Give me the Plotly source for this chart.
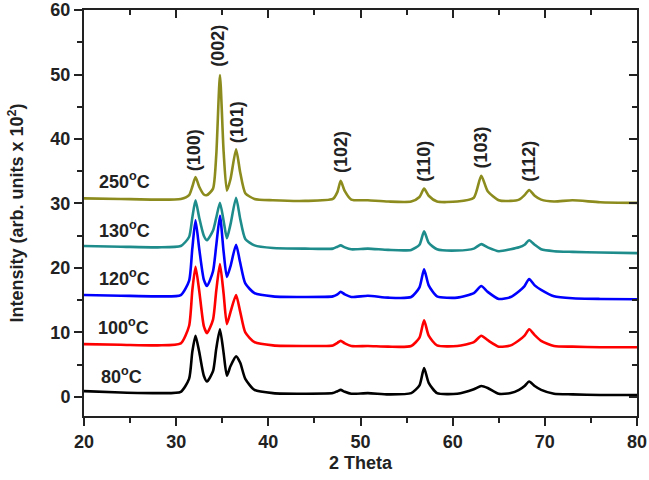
import plotly.graph_objects as go

# 2-theta knot positions (degrees)
TWO_THETA = [20, 24, 28, 30.5, 31.4, 31.75, 32.1, 32.5, 33.0, 33.35, 34.0, 34.35, 34.75, 35.15,
             35.5, 35.9, 36.5, 36.95, 37.5, 38.5, 40.5, 44, 47.0, 47.5, 47.85, 48.3, 49.0,
             50.8, 53, 55.5, 56.4, 56.9, 57.4, 58.3, 60.5, 62.3, 63.1, 63.8, 65.0, 66.3,
             67.2, 67.8, 68.3, 68.9, 69.6, 71, 73, 76, 80]

I_80C = [0.9, 0.7, 0.6, 0.8, 2.8, 7.0, 9.5, 7.0, 3.3, 2.4, 4.0, 7.5, 10.5, 6.8, 3.3, 4.8,
         6.3, 5.3, 2.8, 1.1, 0.6, 0.5, 0.6, 0.9, 1.1, 0.8, 0.5, 0.6, 0.4, 0.6, 1.8, 4.5,
         2.2, 0.6, 0.5, 1.2, 1.7, 1.4, 0.5, 0.6, 1.1, 1.7, 2.4, 1.7, 1.1, 0.5, 0.4, 0.3, 0.3]
I_100C = [8.2, 8.1, 8.0, 8.3, 11.0, 16.5, 20.2, 16.5, 11.0, 9.9, 12.0, 16.5, 20.6, 16.0,
          11.3, 13.2, 15.8, 13.2, 10.0, 8.5, 8.0, 7.9, 8.0, 8.4, 8.7, 8.3, 7.9, 7.9, 7.8,
          7.9, 9.2, 11.9, 9.5, 8.0, 7.9, 8.5, 9.5, 8.8, 7.8, 8.0, 8.8, 9.5, 10.5, 9.6,
          8.7, 7.9, 7.8, 7.7, 7.7]
I_120C = [15.8, 15.7, 15.6, 15.8, 18.0, 23.0, 27.4, 23.0, 18.2, 17.2, 19.5, 23.5, 28.1,
          22.5, 18.6, 20.3, 23.6, 20.8, 17.6, 16.1, 15.6, 15.5, 15.6, 15.9, 16.3, 15.9,
          15.5, 15.7, 15.4, 15.5, 17.0, 19.8, 17.3, 15.6, 15.4, 16.1, 17.2, 16.3, 15.2,
          15.5, 16.4, 17.2, 18.3, 17.3, 16.6, 15.6, 15.3, 15.2, 15.15]
I_130C = [23.4, 23.3, 23.2, 23.4, 24.8, 27.8, 30.5, 27.8, 25.0, 24.3, 25.8, 27.8, 30.1,
          27.3, 24.6, 26.8, 30.9, 27.6, 24.5, 23.5, 23.1, 23.0, 23.0, 23.3, 23.5, 23.2,
          22.9, 23.0, 22.8, 22.8, 23.6, 25.7, 23.9, 22.9, 22.7, 23.0, 23.7, 23.2, 22.6,
          22.9, 23.2, 23.6, 24.3, 23.6, 22.9, 22.6, 22.5, 22.4, 22.3]
I_250C = [30.8, 30.7, 30.6, 30.7, 31.3, 32.6, 34.1, 32.6, 31.4, 31.3, 32.3, 37.5, 49.9,
          38.0, 32.0, 33.8, 38.4, 34.8, 31.6, 30.7, 30.5, 30.4, 30.7, 31.8, 33.5, 31.9,
          30.6, 30.5, 30.3, 30.3, 31.0, 32.3, 31.2, 30.3, 30.3, 30.9, 34.3, 31.9, 30.5,
          30.4, 30.6, 31.3, 32.1, 31.2, 30.6, 30.3, 30.5, 30.2, 30.1]

SERIES_NAMES = ["80<sup>o</sup>C", "100<sup>o</sup>C", "120<sup>o</sup>C", "130<sup>o</sup>C", "250<sup>o</sup>C"]
SERIES_VALUES = [I_80C, I_100C, I_120C, I_130C, I_250C]
SERIES_COLORS = ["#000000", "#ff0000", "#0000ff", "#1f8c8c", "#8c8c1e"]
# label anchor positions (2theta, intensity)
LABEL_X = [24.1, 24.3, 24.4, 24.4, 24.4]
LABEL_Y = [3.3, 11.0, 18.5, 25.9, 33.5]

PEAK_LABELS = ["(100)", "(002)", "(101)", "(102)", "(110)", "(103)", "(112)"]
PEAK_X = [31.9, 34.6, 36.6, 47.9, 56.8, 63.1, 68.2]
PEAK_Y = [38.2, 54.4, 42.6, 38.0, 36.5, 38.7, 36.5]

FONT = "Arial, Liberation Sans, sans-serif"
TXT = "#222222"

fig = go.Figure()
for name, vals, col in zip(SERIES_NAMES, SERIES_VALUES, SERIES_COLORS):
    fig.add_trace(go.Scatter(x=TWO_THETA, y=vals, mode="lines", name=name,
                             line=dict(color=col, width=2.6, shape="spline", smoothing=0.6),
                             showlegend=False))
# dummy trace to render mirrored axes with inward ticks
fig.add_trace(go.Scatter(x=[None], y=[None], xaxis="x2", yaxis="y2", showlegend=False,
                         hoverinfo="skip"))

for name, lx, ly in zip(SERIES_NAMES, LABEL_X, LABEL_Y):
    fig.add_annotation(x=lx, y=ly, text=name, showarrow=False, xref="x", yref="y",
                       font=dict(family=FONT, size=18, color=TXT, weight="bold"))
for lab, px, py in zip(PEAK_LABELS, PEAK_X, PEAK_Y):
    fig.add_annotation(x=px, y=py, text=lab, showarrow=False, textangle=-90,
                       font=dict(family=FONT, size=18, color=TXT, weight="bold"))

XR = [20, 80]
YR = [-2.95, 60]
tickfont = dict(family=FONT, size=18, color=TXT, weight="bold")
titlefont = dict(family=FONT, size=18, color=TXT, weight="bold")
common = dict(showgrid=False, zeroline=False, automargin=False, tickwidth=1.5,
              tickcolor=TXT, showline=True, linewidth=2, linecolor=TXT)
fig.update_layout(
    template="none",
    width=649, height=480,
    margin=dict(l=84, r=12, t=10, b=64, autoexpand=False),
    paper_bgcolor="white", plot_bgcolor="white",
    xaxis=dict(range=XR, dtick=10, tick0=20, ticks="outside", ticklen=8, tickfont=tickfont,
               minor=dict(dtick=5, ticks="outside", ticklen=5, tickwidth=1.5, tickcolor=TXT),
               title=dict(text="2 Theta", font=titlefont, standoff=6), **common),
    yaxis=dict(range=YR, dtick=10, tick0=0, ticks="outside", ticklen=8, tickfont=tickfont,
               minor=dict(dtick=5, ticks="outside", ticklen=5, tickwidth=1.5, tickcolor=TXT),
               title=dict(text="Intensity (arb. units x 10<sup>2</sup>)",
                          font=titlefont, standoff=22), **common),
    xaxis2=dict(range=XR, overlaying="x", side="top", anchor="y2", dtick=10, tick0=20,
                ticks="inside", ticklen=8, showticklabels=False,
                minor=dict(dtick=5, ticks="inside", ticklen=5, tickwidth=1.5, tickcolor=TXT),
                **common),
    yaxis2=dict(range=YR, overlaying="y", side="right", anchor="x2", dtick=10, tick0=0,
                ticks="inside", ticklen=8, showticklabels=False,
                minor=dict(dtick=5, ticks="inside", ticklen=5, tickwidth=1.5, tickcolor=TXT),
                **common),
)

fig.write_html("out.html")
